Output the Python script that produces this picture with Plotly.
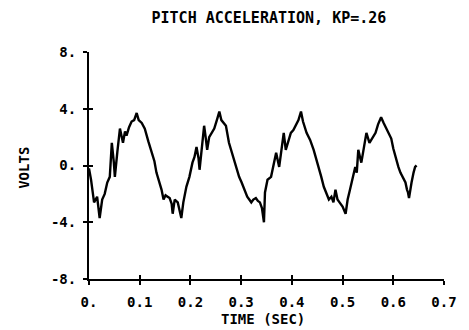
import plotly.graph_objects as go

# ---- data ----
time_s = [0.000, 0.004, 0.010, 0.016, 0.021, 0.026, 0.031, 0.036, 0.041, 0.045,
          0.049, 0.051, 0.056, 0.061, 0.067, 0.071, 0.074, 0.079, 0.084, 0.089,
          0.094, 0.098, 0.104, 0.110, 0.117, 0.124, 0.129, 0.133, 0.138, 0.143,
          0.147, 0.151, 0.155, 0.159, 0.163, 0.165, 0.169, 0.175, 0.182, 0.186,
          0.192, 0.198, 0.204, 0.208, 0.212, 0.216, 0.218, 0.222, 0.227, 0.230,
          0.233, 0.237, 0.242, 0.247, 0.253, 0.257, 0.261, 0.265, 0.270, 0.276,
          0.281, 0.286, 0.291, 0.296, 0.301, 0.306, 0.312, 0.316, 0.320, 0.324,
          0.329, 0.333, 0.337, 0.341, 0.345, 0.347, 0.352, 0.359, 0.364, 0.369,
          0.375, 0.380, 0.384, 0.388, 0.392, 0.398, 0.403, 0.408, 0.413, 0.418,
          0.422, 0.429, 0.436, 0.443, 0.448, 0.453, 0.458, 0.463, 0.468, 0.473,
          0.478, 0.482, 0.486, 0.490, 0.494, 0.500, 0.506, 0.510, 0.514, 0.518,
          0.522, 0.525, 0.528, 0.531, 0.537, 0.542, 0.547, 0.553, 0.559, 0.565,
          0.570, 0.576, 0.581, 0.586, 0.591, 0.596, 0.600, 0.604, 0.610, 0.614,
          0.620, 0.624, 0.627, 0.629, 0.631, 0.633, 0.636, 0.640, 0.643, 0.646]
volts = [-0.2, -1.0, -2.6, -2.2, -3.7, -2.4, -2.0, -1.2, -0.8, 1.6,
         0.2, -0.8, 1.0, 2.6, 1.6, 2.4, 2.1, 2.7, 3.1, 3.2,
         3.7, 3.2, 3.0, 2.6, 1.7, 0.9, 0.3, -0.5, -1.1, -1.7,
         -2.4, -2.1, -2.2, -2.3, -2.7, -3.4, -2.4, -2.6, -3.7, -2.6,
         -1.5, -0.8, 0.2, 0.6, 1.3, 0.5, -0.3, 0.9, 2.8, 2.0,
         1.1, 2.0, 2.3, 2.6, 3.3, 3.8, 3.2, 3.0, 2.8, 1.6,
         1.0, 0.4, -0.2, -0.8, -1.2, -1.7, -2.2, -2.4, -2.6, -2.4,
         -2.3, -2.5, -2.6, -3.0, -4.0, -1.9, -1.0, -0.8, 0.0, 0.9,
         -0.1, 1.2, 2.3, 1.1, 1.6, 2.3, 2.5, 2.8, 3.2, 3.8,
         3.1, 2.3, 1.8, 1.1, 0.5, -0.1, -0.8, -1.5, -2.0, -2.4,
         -2.2, -2.6, -1.7, -2.4, -2.6, -2.9, -3.4, -2.4, -1.8, -1.2,
         -0.6, -0.1, -0.5, 1.1, 0.2, 1.2, 2.3, 1.6, 2.0, 2.3,
         2.9, 3.4, 3.0, 2.6, 2.2, 1.9, 1.2, 0.6, -0.1, -0.5,
         -0.9, -1.2, -1.7, -1.9, -2.3, -1.8, -1.2, -0.5, -0.1, 0.0]

x_tickvals = [0.0, 0.1, 0.2, 0.3, 0.4, 0.5, 0.6, 0.7]
x_ticktext = ["0.", "0.1", "0.2", "0.3", "0.4", "0.5", "0.6", "0.7"]
y_tickvals = [-8, -4, 0, 4, 8]
y_ticktext = ["-8.", "-4.", "0.", "4.", "8."]

title_text = "PITCH ACCELERATION, KP=.26"
x_title = "TIME (SEC)"
y_title = "VOLTS"

FONT = "DejaVu Sans Mono"

fig = go.Figure()
fig.add_trace(go.Scatter(x=time_s, y=volts, mode="lines",
                         line=dict(color="black", width=2.4),
                         showlegend=False, hoverinfo="skip"))

common_axis = dict(showgrid=False, zeroline=False, ticks="outside", ticklen=4,
                   tickwidth=2, tickcolor="black")

# the page body adds an 8px offset, so the figure is 461x322 drawn at (8, 8)
fig.update_layout(
    width=461, height=322,
    margin=dict(l=81, r=19, t=44, b=51),
    paper_bgcolor="white", plot_bgcolor="white",
    font=dict(family=FONT, color="black", size=14, weight="bold"),
    title=dict(text=title_text, x=0.566, xanchor="center", y=0.97, yanchor="middle",
               yref="container", font=dict(family=FONT, size=15, weight="bold")),
    xaxis=dict(range=[0, 0.7], tickvals=x_tickvals, ticktext=x_ticktext,
               showline=True, linecolor="black", linewidth=2,
               ticklabelstandoff=5, **common_axis),
    yaxis=dict(range=[-8, 8], tickvals=y_tickvals, ticktext=y_ticktext,
               showline=True, linecolor="black", linewidth=2,
               ticklabelstandoff=4, **common_axis),
    xaxis2=dict(range=[0, 0.7], tickvals=x_tickvals, overlaying="x", side="bottom",
                showticklabels=False, showline=False, showgrid=False, zeroline=False,
                ticks="inside", ticklen=4, tickwidth=2, tickcolor="black"),
    yaxis2=dict(range=[-8, 8], tickvals=y_tickvals, overlaying="y", side="left",
                showticklabels=False, showline=False, showgrid=False, zeroline=False,
                ticks="inside", ticklen=4, tickwidth=2, tickcolor="black"),
    annotations=[
        dict(text=x_title, xref="paper", yref="paper", x=0.49, y=-0.176,
             xanchor="center", yanchor="middle", showarrow=False,
             font=dict(family=FONT, size=14, weight="bold")),
        dict(text=y_title, xref="paper", yref="paper", x=-0.183, y=0.49,
             xanchor="center", yanchor="middle", showarrow=False, textangle=-90,
             font=dict(family=FONT, size=14, weight="bold")),
    ],
)
# invisible trace to activate the overlay axes
fig.add_trace(go.Scatter(x=[0], y=[0], xaxis="x2", yaxis="y2", mode="markers",
                         marker=dict(opacity=0), showlegend=False, hoverinfo="skip"))

fig.write_html("out.html")
